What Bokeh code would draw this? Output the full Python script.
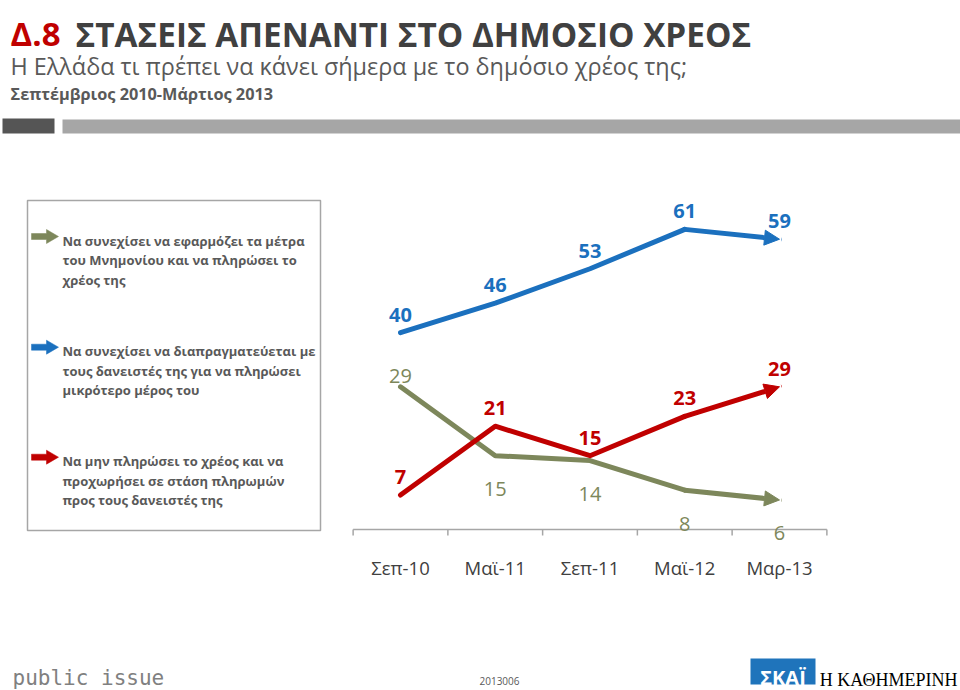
from bokeh.plotting import figure
from bokeh.models import Range1d, Arrow, NormalHead
from bokeh.core.properties import value
from bokeh.embed import file_html
from bokeh.resources import INLINE

# ---------------- data ----------------
categories = ["Σεπ-10", "Μαϊ-11", "Σεπ-11", "Μαϊ-12", "Μαρ-13"]
continue_memorandum = [29, 15, 14, 8, 6]
renegotiate = [40, 46, 53, 61, 59]
stop_payments = [7, 21, 15, 23, 29]

legend_labels = [
    ["Να συνεχίσει να εφαρμόζει τα μέτρα", "του Μνημονίου και να πληρώσει το", "χρέος της"],
    ["Να συνεχίσει να διαπραγματεύεται με", "τους δανειστές της για να πληρώσει", "μικρότερο μέρος του"],
    ["Να μην πληρώσει το χρέος και να", "προχωρήσει σε στάση πληρωμών", "προς τους δανειστές της"],
]
title_code = "Δ.8"
title_text = "ΣΤΑΣΕΙΣ ΑΠΕΝΑΝΤΙ ΣΤΟ ΔΗΜΟΣΙΟ ΧΡΕΟΣ"
subtitle = "Η Ελλάδα τι πρέπει να κάνει σήμερα με το δημόσιο χρέος της;"
period = "Σεπτέμβριος 2010-Μάρτιος 2013"
source_name = "public issue"
survey_code = "2013006"
logo_tv = "ΣΚΑΪ"
logo_paper = "Η ΚΑΘΗΜΕΡΙΝΗ"

# ---------------- styles / layout ----------------
OLIVE = "#7D875B"
BLUE = "#1B70BE"
RED = "#C00000"
DARK = "#404040"
GRAY = "#595959"
FONT = value("Open Sans")

W, H = 960, 690
X0, DX = 400.0, 94.75      # x of first category, spacing (px)
Y0, PXU = 529.0, 4.92      # y of value 0 (px from top), pixels per unit

p = figure(width=W, height=H, output_backend="svg", toolbar_location=None,
           x_range=Range1d(0, W), y_range=Range1d(H, 0),
           x_axis_location=None, y_axis_location=None, min_border=0,
           outline_line_color=None, background_fill_color="white",
           border_fill_color="white")
p.grid.visible = False
p.extra_x_ranges = {"idx": Range1d((0 - X0) / DX, (W - X0) / DX)}
p.extra_y_ranges = {"val": Range1d((Y0 - H) / PXU, Y0 / PXU)}

# ---------------- header ----------------
p.text(x=[10], y=[33], text=[title_code], text_color=RED, text_font=FONT,
       text_font_style="bold", text_font_size="33px", text_baseline="alphabetic")
p.text(x=[75], y=[33], text=[title_text], text_color=DARK, text_font=FONT,
       text_font_style="bold", text_font_size="33.3px", text_baseline="alphabetic")
p.text(x=[10], y=[65], text=[subtitle], text_color=GRAY, text_font=FONT,
       text_font_size="23.4px", text_baseline="alphabetic")
p.text(x=[10], y=[93], text=[period], text_color=GRAY, text_font=FONT,
       text_font_style="bold", text_font_size="16.3px", text_baseline="alphabetic")
p.quad(left=[2], right=[54], top=[118], bottom=[133], fill_color="#555555", line_color=None)
p.quad(left=[62], right=[W], top=[119], bottom=[133], fill_color="#A6A6A6", line_color=None)

# ---------------- legend box ----------------
p.quad(left=[27], right=[320], top=[200], bottom=[530], fill_color=None,
       line_color="#A6A6A6", line_width=1.5)
leg_colors = [OLIVE, BLUE, RED]
leg_tops = [236, 346.7, 456.7]
for lines, col, yc in zip(legend_labels, leg_colors, leg_tops):
    xs = [31, 46, 46, 58, 46, 46, 31]
    ys = [yc - 3, yc - 3, yc - 7, yc, yc + 7, yc + 3, yc + 3]
    p.patch(xs, ys, fill_color=col, line_color=col, line_width=0.5)
    p.text(x=[62] * len(lines), y=[yc + 4 + 19.6 * k for k in range(len(lines))],
           text=lines, text_color=GRAY, text_font=FONT, text_font_style="bold",
           text_font_size="13px", text_baseline="alphabetic")

# ---------------- axis ----------------
n = len(categories)
idx = list(range(n))
tick_len = 6 / PXU
bounds = [i - 0.5 for i in range(n + 1)]
p.segment(x0=[-0.5], y0=[0], x1=[n - 0.5], y1=[0], line_color="#A6A6A6", line_width=1.5,
          x_range_name="idx", y_range_name="val")
p.segment(x0=bounds, y0=[0] * len(bounds), x1=bounds, y1=[-tick_len] * len(bounds),
          line_color="#A6A6A6", line_width=1.5, x_range_name="idx", y_range_name="val")
p.text(x=idx, y=[0] * n, text=categories, y_offset=38, text_color=DARK, text_font=FONT,
       text_font_size="18.5px", text_align="center", text_baseline="alphabetic",
       x_range_name="idx", y_range_name="val")

# ---------------- series ----------------
def draw_series(vals, col, offsets, style):
    p.line(idx[:-1], vals[:-1], line_color=col, line_width=5, line_join="round",
           line_cap="round", x_range_name="idx", y_range_name="val")
    p.add_layout(Arrow(x_start=idx[-2], y_start=vals[-2], x_end=idx[-1], y_end=vals[-1],
                       line_color=col, line_width=5, line_cap="round",
                       end=NormalHead(size=15, fill_color=col, line_color=col, line_width=1),
                       x_range_name="idx", y_range_name="val"))
    for i, v in enumerate(vals):
        p.text(x=[idx[i]], y=[v], text=[str(v)], y_offset=offsets[i], text_color=col,
               text_font=FONT, text_font_style=style, text_font_size="20px",
               text_align="center", text_baseline="alphabetic",
               x_range_name="idx", y_range_name="val")

draw_series(continue_memorandum, OLIVE, [-11] + [33.5] * (n - 1), "normal")
draw_series(stop_payments, RED, [-18] * n, "bold")
draw_series(renegotiate, BLUE, [-18] * n, "bold")

# ---------------- footer ----------------
p.text(x=[12], y=[677], text=[source_name], text_color="#808080",
       text_font=value("DejaVu Sans Mono"), text_font_size="21px", text_baseline="alphabetic")
p.text(x=[499], y=[680], text=[survey_code], text_color=GRAY, text_font=FONT,
       text_font_size="10px", text_align="center", text_baseline="alphabetic")
p.quad(left=[750], right=[815], top=[658], bottom=[684], fill_color="#1F74BB", line_color=None)
p.text(x=[782.5], y=[677], text=[logo_tv], text_color="white", text_font=FONT,
       text_font_style="bold", text_font_size="20px", text_align="center",
       text_baseline="alphabetic")
p.text(x=[957], y=[679], text=[logo_paper], text_color="black",
       text_font=value("Liberation Serif"), text_font_size="18px", text_align="right",
       text_baseline="alphabetic")

open("out.html", "w").write(file_html(p, INLINE))
